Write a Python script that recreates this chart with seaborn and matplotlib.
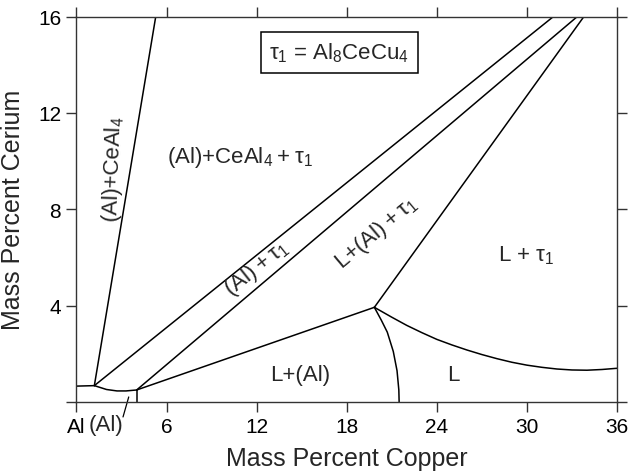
import matplotlib
matplotlib.use("Agg")
import matplotlib.pyplot as plt
import seaborn as sns
import pandas as pd

# ---- data (mass % Cu, mass % Ce) ----
left_horizontal_x = [0.0, 1.19]
left_horizontal_y = [0.66, 0.68]

ceal4_boundary_x = [1.19, 5.28]
ceal4_boundary_y = [0.68, 16.0]

al_solvus_x = [1.19, 2.0, 2.7, 3.3, 4.01]
al_solvus_y = [0.68, 0.52, 0.46, 0.46, 0.50]

al_vertical_x = [4.01, 4.01]
al_vertical_y = [0.50, 0.0]

a_tau_x = [1.19, 31.77]
a_tau_y = [0.68, 16.0]

b_tau_x = [4.01, 33.36]
b_tau_y = [0.50, 16.0]

b_junction_x = [4.01, 19.84]
b_junction_y = [0.50, 3.93]

junction_tau_x = [19.84, 33.8]
junction_tau_y = [3.93, 16.0]

liquidus_al_x = [19.84, 20.3, 20.7, 21.1, 21.35, 21.47, 21.49]
liquidus_al_y = [3.93, 3.4, 2.9, 2.1, 1.3, 0.5, 0.0]

liquidus_tau_x = [19.84, 21.0, 22.0, 23.0, 24.0, 25.0, 26.0, 27.0, 28.0,
                  29.0, 30.0, 31.0, 32.0, 33.0, 34.0, 35.0, 36.0]
liquidus_tau_y = [3.93, 3.52, 3.18, 2.88, 2.60, 2.37, 2.16, 1.97, 1.80,
                  1.65, 1.53, 1.44, 1.37, 1.33, 1.32, 1.35, 1.40]

leader_x = [3.1, 3.48]
leader_y = [-0.62, 0.21]

x_ticks = [0, 6, 12, 18, 24, 30, 36]
x_tick_labels = ["Al", "6", "12", "18", "24", "30", "36"]
y_ticks = [0, 4, 8, 12, 16]
y_tick_labels = ["", "4", "8", "12", "16"]

TS = "\u2009"  # thin space
region_labels = [
    (r"(Al)+CeAl$_4$", 2.45, 9.7, 88),
    ("(Al)+CeAl$_4$" + TS + "+" + TS + "τ$_1$", 10.9, 10.2, 0),
    ("(Al)" + TS + "+" + TS + "τ$_1$", 11.97, 5.55, 38.5),
    ("L+(Al)" + TS + "+" + TS + "τ$_1$", 20.0, 7.05, 40),
    ("L + τ$_1$", 29.95, 6.1, 0),
    ("L+(Al)", 14.89, 1.16, 0),
    ("L", 25.1, 1.16, 0),
]

# ---- style ----
sns.set_theme(style="white")
plt.rcParams["font.family"] = ["Liberation Sans", "DejaVu Sans"]
plt.rcParams["mathtext.fontset"] = "custom"
plt.rcParams["mathtext.rm"] = "Liberation Sans"
plt.rcParams["mathtext.it"] = "Liberation Sans"
plt.rcParams["mathtext.default"] = "regular"

fig = plt.figure(figsize=(6.31, 4.77), dpi=100)
ax = fig.add_axes([0.1212, 0.1551, 0.8566, 0.8082])

curves = [
    (left_horizontal_x, left_horizontal_y),
    (ceal4_boundary_x, ceal4_boundary_y),
    (al_solvus_x, al_solvus_y),
    (al_vertical_x, al_vertical_y),
    (a_tau_x, a_tau_y),
    (b_tau_x, b_tau_y),
    (b_junction_x, b_junction_y),
    (junction_tau_x, junction_tau_y),
    (liquidus_al_x, liquidus_al_y),
    (liquidus_tau_x, liquidus_tau_y),
]
for cx, cy in curves:
    df = pd.DataFrame({"x": cx, "y": cy})
    sns.lineplot(data=df, x="x", y="y", sort=False, estimator=None,
                 color="black", linewidth=1.1, ax=ax)

ax.plot(leader_x, leader_y, color="black", linewidth=0.9, clip_on=False)

ax.set_xlim(0, 36)
ax.set_ylim(0, 16)
ax.set_xticks(x_ticks)
ax.set_xticklabels(x_tick_labels)
ax.set_yticks(y_ticks)
ax.set_yticklabels(y_tick_labels)
ax.tick_params(axis="both", direction="out", length=7, width=1.0, color="#333333",
               labelsize=15, pad=4, labelcolor="black")
ax.tick_params(top=True, right=True, bottom=True, left=True,
               labeltop=False, labelright=False)
for s in ax.spines.values():
    s.set_visible(True)
    s.set_color("#333333")
    s.set_linewidth(1.0)

ax.set_xlabel("Mass Percent Copper", fontsize=18, labelpad=7)
ax.set_ylabel("Mass Percent Cerium", fontsize=18, labelpad=9)

for txt, tx, ty, rot in region_labels:
    ax.text(tx, ty, txt, fontsize=16, rotation=rot, ha="center", va="center",
            rotation_mode="anchor")

ax.text(1.95, -0.95, "(Al)", fontsize=16, ha="center", va="center",
        clip_on=False)

ax.text(17.5, 14.5, r"τ$_1$ = Al$_8$CeCu$_4$", fontsize=16, ha="center",
        va="center",
        bbox=dict(boxstyle="square,pad=0.38", fc="white", ec="black", lw=1.1))

fig.savefig("out.png", dpi=100)
